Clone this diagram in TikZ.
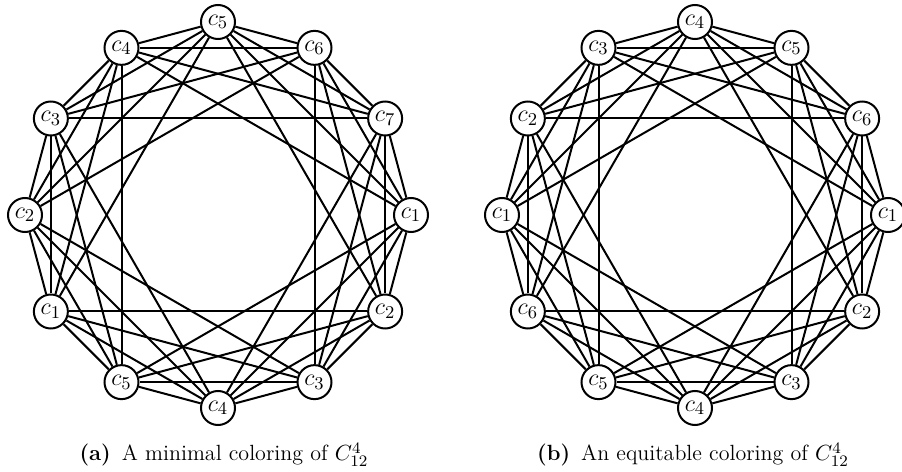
\documentclass[tikz,border=0pt]{standalone}
\begin{document}
\begin{tikzpicture}[
    x=0.5pt,y=0.5pt,
    vtx/.style={circle,draw,line width=1pt,fill=white,minimum size=17pt,
        inner sep=0pt,font=\fontsize{13}{15}\selectfont},
    edge/.style={line width=1pt},
    captext/.style={anchor=base,font=\fontsize{11}{13.6}\selectfont}]
    \def\rad{193}
    \useasboundingbox (0,0) rectangle (902,472);

    % left graph: a minimal coloring
    \begin{scope}[shift={(218,257)}]
        \foreach \k/\c in {0/1,1/7,2/6,3/5,4/4,5/3,6/2,7/1,8/5,9/4,10/3,11/2}
            \node[vtx] (L\k) at (\k*30:\rad) {$c_{\c}$};
        \foreach \i in {0,...,11} {
            \foreach \d in {1,...,4} {
                \pgfmathtruncatemacro{\j}{mod(\i+\d,12)}
                \draw[edge] (L\i) -- (L\j);
            }
        }
    \end{scope}

    % right graph: an equitable coloring
    \begin{scope}[shift={(695,257)}]
        \foreach \k/\c in {0/1,1/6,2/5,3/4,4/3,5/2,6/1,7/6,8/5,9/4,10/3,11/2}
            \node[vtx] (R\k) at (\k*30:\rad) {$c_{\c}$};
        \foreach \i in {0,...,11} {
            \foreach \d in {1,...,4} {
                \pgfmathtruncatemacro{\j}{mod(\i+\d,12)}
                \draw[edge] (R\i) -- (R\j);
            }
        }
    \end{scope}

    \node[captext] (capa) at (224,11) {\textbf{(a)}\enspace A minimal coloring of $C_{12}^4$};
    \node[captext] (capb) at (693,11) {\textbf{(b)}\enspace An equitable coloring of $C_{12}^4$};
\end{tikzpicture}
\end{document}
